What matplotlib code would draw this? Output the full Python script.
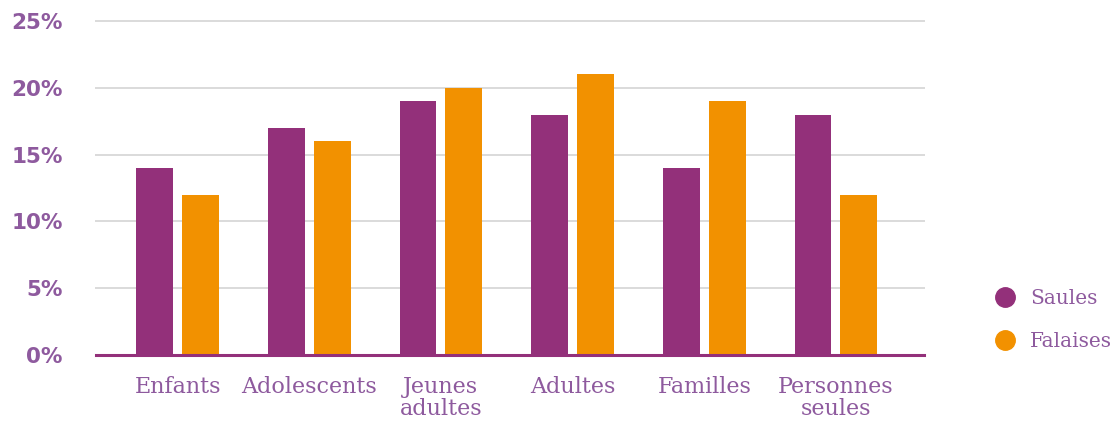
import numpy as np
import matplotlib.pyplot as plt
from matplotlib.lines import Line2D

categories = ["Enfants", "Adolescents", "Jeunes\nadultes", "Adultes", "Familles", "Personnes\nseules"]
saules = [14, 17, 19, 18, 14, 18]
falaises = [12, 16, 20, 21, 19, 12]
yticks = [0, 5, 10, 15, 20, 25]

purple = "#93307A"
orange = "#F29100"
textColor = "#8E5A9E"

fig = plt.figure(figsize=(11.19, 4.23), dpi=100)
ax = fig.add_axes([0.0858, 0.1608, 0.74, 0.7896])

x = np.arange(len(categories))
w = 0.28
ax.bar(x - 0.174, saules, w, color=purple, zorder=3)
ax.bar(x + 0.174, falaises, w, color=orange, zorder=3)

ax.set_xlim(-0.62, 5.67)
ax.set_ylim(0, 25)
ax.set_yticks(yticks)
ax.set_yticklabels([f"{v}%" for v in yticks], fontsize=15.5, fontweight="bold",
                   color=textColor, family="DejaVu Sans")
ax.set_xticks(x)
ax.set_xticklabels(categories, fontsize=16, color=textColor, family="DejaVu Serif",
                   linespacing=1.0)
ax.tick_params(axis="both", length=0)
ax.tick_params(axis="y", pad=24)
ax.tick_params(axis="x", pad=15)

for v in yticks[1:]:
    ax.axhline(v, color="#DADADA", lw=1.4, zorder=1, clip_on=False)
ax.axhline(0, color=purple, lw=2.2, zorder=4, clip_on=False)

for s in ax.spines.values():
    s.set_visible(False)

handles = [Line2D([], [], marker="o", ls="", markersize=14, color=purple),
           Line2D([], [], marker="o", ls="", markersize=14, color=orange)]
leg = fig.legend(handles, ["Saules", "Falaises"], loc="center left",
                 bbox_to_anchor=(0.864, 0.243), frameon=False,
                 handletextpad=0.25, labelspacing=1.2, prop={"family": "DejaVu Serif", "size": 14.5})
for t in leg.get_texts():
    t.set_color(textColor)

fig.savefig("out.png", dpi=100)
